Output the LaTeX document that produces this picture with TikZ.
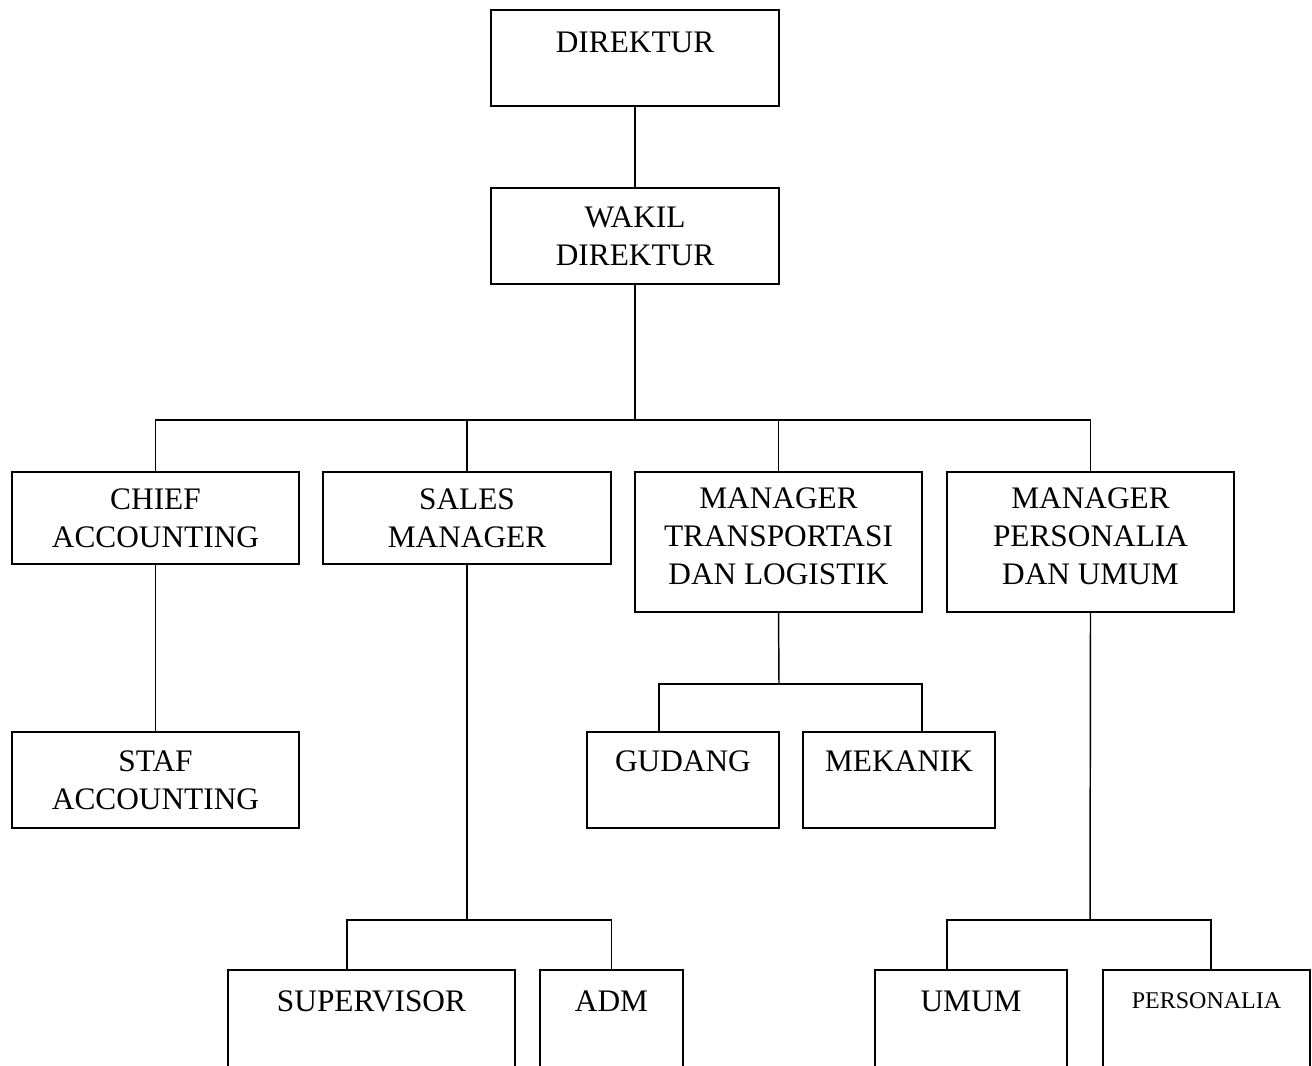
\documentclass[tikz,border=0pt]{standalone}
\usepackage{fontspec}
\setmainfont{Liberation Serif}
\tikzset{
  orgbox/.style={draw, line width=1.1pt, rectangle, inner sep=0pt, outer sep=0pt, align=center,
    font=\fontsize{23.5}{28.5}\selectfont},
  sz/.style 2 args={minimum width=#1*0.75pt, minimum height=#2*0.75pt},
  link/.style={line width=1.1pt}}
\begin{document}
\begin{tikzpicture}[x=0.75pt,y=-0.75pt]
\useasboundingbox (0,0) rectangle (1312,1066);
\clip (0,0) rectangle (1312,1066);
\node[orgbox, sz={288}{96}, text height=48.5pt] (dir) at (635,58) {DIREKTUR\\\mbox{}};
\node[orgbox, sz={288}{96}] (wak) at (635,236) {WAKIL\\DIREKTUR};
\node[orgbox, sz={287}{92}] (chief) at (155.5,518) {CHIEF\\ACCOUNTING};
\node[orgbox, sz={288}{92}] (sales) at (467,518) {SALES\\MANAGER};
\node[orgbox, sz={287}{140}, text depth=9pt] (trans) at (778.5,542) {MANAGER\\TRANSPORTASI\\DAN LOGISTIK};
\node[orgbox, sz={287}{140}, text depth=9pt] (pers) at (1090.5,542) {MANAGER\\PERSONALIA\\DAN UMUM};
\node[orgbox, sz={287}{96}] (staf) at (155.5,780) {STAF\\ACCOUNTING};
\node[orgbox, sz={192}{96}] (gud) at (683,780) {GUDANG\\\mbox{}};
\node[orgbox, sz={192}{96}] (mek) at (899,780) {MEKANIK\\\mbox{}};
\node[orgbox, sz={287}{100}] (sup) at (371.5,1020) {SUPERVISOR\\\mbox{}};
\node[orgbox, sz={143}{100}] (adm) at (611.5,1020) {ADM\\\mbox{}};
\node[orgbox, sz={192}{100}] (umum) at (971,1020) {UMUM\\\mbox{}};
\node[orgbox, sz={207}{100}, font=\fontsize{18}{28.5}\selectfont] (persn) at (1206.5,1020) {PERSONALIA\\\mbox{}};

\coordinate (j1) at (635,420);
\coordinate (j2) at (779,684);
\coordinate (j3) at (467,920);
\coordinate (j4) at (1090,920);

\draw[link] (dir.south) -- (wak.north);
\draw[link] (wak.south) -- (j1);
\draw[link] (chief.north) |- (j1);
\draw[link] (pers.north) |- (j1);
\draw[link] (sales.north) -- (sales.north |- j1);
\draw[link] (trans.north) -- (trans.north |- j1);
\draw[link] (chief.south) -- (staf.north);
\draw[link] (trans.south) -- (j2);
\draw[link] ([xshift=-24*0.75pt]gud.north) |- (j2);
\draw[link] ([xshift=23*0.75pt]mek.north) |- (j2);
\draw[link] (sales.south) -- (j3);
\draw[link] ([xshift=-24.5*0.75pt]sup.north) |- (j3);
\draw[link] (adm.north) |- (j3);
\draw[link] (pers.south) -- (j4);
\draw[link] ([xshift=-24*0.75pt]umum.north) |- (j4);
\draw[link] ([xshift=4.5*0.75pt]persn.north) |- (j4);
\end{tikzpicture}
\end{document}
